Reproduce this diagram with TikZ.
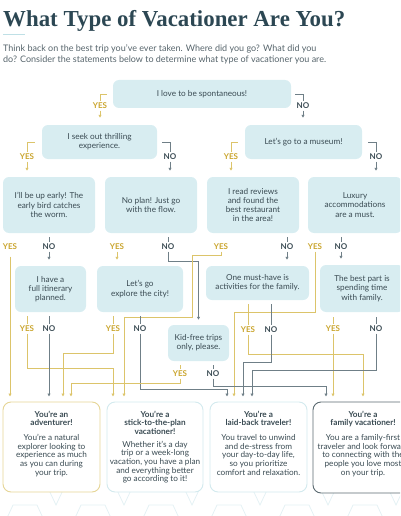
\documentclass[tikz,border=0pt]{standalone}
\usepackage{fontspec}
\setmainfont{Lato}
\newfontfamily\titlefont{Liberation Serif}
\usetikzlibrary{arrows.meta}
\definecolor{boxfill}{HTML}{D8EDF1}
\definecolor{ink}{HTML}{3A4B53}
\definecolor{gold}{HTML}{C9A42C}
\definecolor{goldline}{HTML}{DCC46A}
\definecolor{noline}{HTML}{6F7F87}
\definecolor{titlec}{HTML}{2C4753}
\definecolor{greytext}{HTML}{56646B}
\definecolor{advb}{HTML}{E6D596}
\definecolor{paleb}{HTML}{D3EAEE}
\definecolor{famb}{HTML}{5B6A71}
\definecolor{deco}{HTML}{E4F1F4}
\definecolor{rule}{HTML}{BFE0E6}
\begin{document}
\begin{tikzpicture}[x=1pt,y=-1pt,
 qbox/.style={fill=boxfill, rounded corners=6pt, align=center, font=\fontsize{8.2}{9.2}\selectfont, text=ink, inner sep=0pt},
 rbox/.style={fill=white, rounded corners=8pt, line width=0.9pt, inner sep=0pt, minimum height=90pt},
 rtext/.style={align=center, anchor=north, text=ink, font=\fontsize{8.2}{8.7}\selectfont, inner sep=0pt},
 yes/.style={text=gold, font=\fontsize{8}{8}\selectfont\bfseries, inner sep=1.5pt},
 no/.style={text=ink, font=\fontsize{8}{8}\selectfont\bfseries, inner sep=1.5pt},
 yl/.style={draw=goldline, line width=0.7pt},
 nl/.style={draw=noline, line width=0.7pt},
 ya/.style={yl, -{Latex[length=3pt,width=3.5pt]}},
 na/.style={nl, -{Latex[length=3pt,width=3.5pt]}},
 decoline/.style={draw=deco, line width=0.8pt}
]
\useasboundingbox (0,0) rectangle (400,516);
\begin{scope}
\clip (0,0) rectangle (400,516);
% background decoration
\foreach \i in {0,...,6}{
  \draw[decoline] (7+68*\i,518) -- (13+68*\i,505) -- (37+68*\i,505) -- (43+68*\i,518);
  \draw[decoline] (48+68*\i,488) -- (56+68*\i,505) -- (64+68*\i,488);
}
% title
\node[anchor=base west, inner sep=0pt, text=titlec] (title) at (3,27)
  {\resizebox{342pt}{!}{\titlefont\bfseries What Type of Vacationer Are You?}};
\draw[draw=rule, line width=1pt] (3,35) -- (25,35);
\node[anchor=north west, inner sep=0pt, align=left, text=greytext,
  font=\fontsize{9}{11}\selectfont] (intro) at (3,44)
  {Think back on the best trip you’ve ever taken. Where did you go? What did you\\
   do? Consider the statements below to determine what type of vacationer you are.};

% question boxes
\node[qbox, minimum width=178pt, minimum height=28pt] (q1) at (202,94) {I love to be spontaneous!};
\node[qbox, minimum width=115pt, minimum height=34pt] (q2) at (99.5,142) {I seek out thrilling\\experience.};
\node[qbox, minimum width=117pt, minimum height=34pt] (q3) at (303.5,142) {Let’s go to a museum!};
\node[qbox, minimum width=92pt, minimum height=56pt] (q4) at (49,205) {I’ll be up early! The\\early bird catches\\the worm.};
\node[qbox, minimum width=92pt, minimum height=56pt] (q5) at (151,205) {No plan! Just go\\with the flow.};
\node[qbox, minimum width=92pt, minimum height=56pt] (q6) at (253,205) {I read reviews\\and found the\\best restaurant\\in the area!};
\node[qbox, minimum width=94pt, minimum height=56pt] (q7) at (355,205) {Luxury\\accommodations\\are a must.};
\node[qbox, minimum width=71pt, minimum height=46pt] (q8) at (50.5,289) {I have a\\full itinerary\\planned.};
\node[qbox, minimum width=86pt, minimum height=46pt] (q9) at (140,289) {Let’s go\\explore the city!};
\node[qbox, minimum width=103pt, minimum height=34pt] (q10) at (257.5,283) {One must-have is\\activities for the family.};
\node[qbox, minimum width=84pt, minimum height=47pt] (q11) at (362,288.5) {The best part is\\spending time\\with family.};
\node[qbox, minimum width=61pt, minimum height=36pt] (q12) at (198.5,343) {Kid-free trips\\only, please.};

% result boxes
\node[rbox, draw=advb, minimum width=97pt] (r1) at (51.5,447) {};
\node[rbox, draw=paleb, minimum width=96pt] (r2) at (155,447) {};
\node[rbox, draw=paleb, minimum width=97pt] (r3) at (258.5,447) {};
\node[rbox, draw=famb, minimum width=100pt, minimum height=91pt] (r4) at (363,447.5) {};
\node[rtext] (r1t) at ([yshift=-9pt]r1.north) {\textbf{You’re an}\\\textbf{adventurer!}\\[6pt]You’re a natural\\explorer looking to\\experience as much\\as you can during\\your trip.};
\node[rtext] (r2t) at ([yshift=-9pt]r2.north) {\textbf{You’re a}\\\textbf{stick-to-the-plan}\\\textbf{vacationer!}\\[4pt]Whether it’s a day\\trip or a week-long\\vacation, you have a plan\\and everything better\\go according to it!};
\node[rtext] (r3t) at ([yshift=-9pt]r3.north) {\textbf{You’re a}\\\textbf{laid-back traveler!}\\[6pt]You travel to unwind\\and de-stress from\\your day-to-day life,\\so you prioritize\\comfort and relaxation.};
\node[rtext] (r4t) at ([yshift=-9pt]r4.north) {\textbf{You’re a}\\\textbf{family vacationer!}\\[6pt]You are a family-first\\traveler and look forward\\to connecting with the\\people you love most\\on your trip.};

% labels
\node[yes] (y1) at (100,106) {YES};
\node[no]  (n1) at (303,106) {NO};
\node[yes] (y2) at (27,157) {YES};
\node[no]  (n2) at (170,157) {NO};
\node[yes] (y3) at (231,157) {YES};
\node[no]  (n3) at (376,157) {NO};
\node[yes] (y4) at (10,247) {YES};
\node[no]  (n4) at (49,247) {NO};
\node[yes] (y5) at (117,247) {YES};
\node[no]  (n5) at (168,247) {NO};
\node[yes] (y6) at (221,247) {YES};
\node[no]  (n6) at (287,247) {NO};
\node[yes] (y7) at (315,247) {YES};
\node[no]  (n7) at (341,247) {NO};
\node[yes] (y8) at (27,329) {YES};
\node[no]  (n8) at (49,329) {NO};
\node[yes] (y9) at (113,329) {YES};
\node[no]  (n9) at (140,329) {NO};
\node[yes] (y10) at (248,330) {YES};
\node[no]  (n10) at (271,330) {NO};
\node[yes] (y11) at (333,329) {YES};
\node[no]  (n11) at (376,329) {NO};
\node[yes] (y12) at (180,374) {YES};
\node[no]  (n12) at (213,374) {NO};

% elbows rows 1-2
\draw[yl] ([xshift=-6pt]q1.west) -| (y1.north);
\draw[ya, shorten >=7pt] (y1.south) -- (y1.south |- q2.north);
\draw[nl] ([xshift=4pt]q1.east) -| (n1.north);
\draw[na, shorten >=7pt] (n1.south) -- (n1.south |- q3.north);
\draw[yl] ([xshift=-7pt]q2.west) -| (y2.north);
\draw[ya, shorten >=6pt] (y2.south) -- (y2.south |- q4.north);
\draw[nl] ([xshift=5pt]q2.east) -| (n2.north);
\draw[na, shorten >=6pt] (n2.south) -- (n2.south |- q5.north);
\draw[yl] ([xshift=-7pt]q3.west) -| (y3.north);
\draw[ya, shorten >=6pt] (y3.south) -- (y3.south |- q6.north);
\draw[nl] ([xshift=6pt]q3.east) -| (n3.north);
\draw[na, shorten >=6pt] (n3.south) -- (n3.south |- q7.north);

% row 3
\draw[ya, shorten <=5pt, shorten >=5pt] (y4.south) -- (y4.south |- r1.north);
\draw[nl, shorten <=4pt] (n4.north |- q4.south) -- (n4.north);
\draw[na, shorten >=6pt] (n4.south) -- (n4.south |- q8.north);
\draw[ya, shorten >=6pt] (y5.south) -- (y5.south |- q9.north);
\draw[nl, shorten <=4pt] (n5.north |- q5.south) -- (n5.north);
\draw[na, shorten >=5pt] (n5.south) |- (198.5,261) -- (q12.north);
\draw[ya, shorten >=5pt] (y6.south) |- (192,255) -- (192,317) -| (124,0 |- r2.north);
\draw[nl, shorten <=4pt] (n6.north |- q6.south) -- (n6.north);
\draw[na, shorten >=6pt] (n6.south) -- (n6.south |- q10.north);
\draw[ya, shorten >=5pt] (y7.south) |- (234,312) -- (234,0 |- r3.north);
\draw[nl, shorten <=4pt] (n7.north |- q7.south) -- (n7.north);
\draw[na, shorten >=6pt] (n7.south) -- (n7.south |- q11.north);

% row 4
\draw[yl, shorten <=4pt] (y8.north |- q8.south) -- (y8.north);
\draw[ya, shorten >=5pt] (y8.south) |- (113,368) -- (113,0 |- r2.north);
\draw[nl, shorten <=4pt] (n8.north |- q8.south) -- (n8.north);
\draw[na, shorten >=5pt] (n8.south) -- (n8.south |- r1.north);
\draw[yl, shorten <=4pt] (y9.north |- q9.south) -- (y9.north);
\draw[ya, shorten >=5pt] (y9.south) |- (63,353) -- (63,0 |- r1.north);
\draw[nl, shorten <=4pt] (n9.north |- q9.south) -- (n9.north);
\draw[na, shorten >=5pt] (n9.south) |- (227,389) -- (227,0 |- r3.north);
\draw[yl, shorten <=4pt] (y10.north |- q10.south) -- (y10.north);
\draw[ya, shorten >=5pt] (y10.south) |- (363,354) -- (363,0 |- r4.north);
\draw[nl, shorten <=4pt] (n10.north |- q10.south) -- (n10.north);
\draw[na, shorten >=5pt] (n10.south) |- (243,362) -- (243,0 |- r3.north);
\draw[yl, shorten <=5pt] (y11.north |- q11.south) -- (y11.north);
\draw[ya, shorten >=5pt] (y11.south) -- (y11.south |- r4.north);
\draw[nl, shorten <=5pt] (n11.north |- q11.south) -- (n11.north);
\draw[na, shorten >=5pt] (n11.south) |- (252,370) -- (252,0 |- r3.north);

% row 5
\draw[yl, shorten <=4pt] (y12.north |- q12.south) -- (y12.north);
\draw[ya, shorten >=5pt] (y12.south) |- (71,383) -- (71,0 |- r1.north);
\draw[nl, shorten <=4pt] (n12.north |- q12.south) -- (n12.north);
\draw[na, shorten >=5pt] (n12.south) |- (326,386) -- (326,0 |- r4.north);
\end{scope}
\end{tikzpicture}
\end{document}
